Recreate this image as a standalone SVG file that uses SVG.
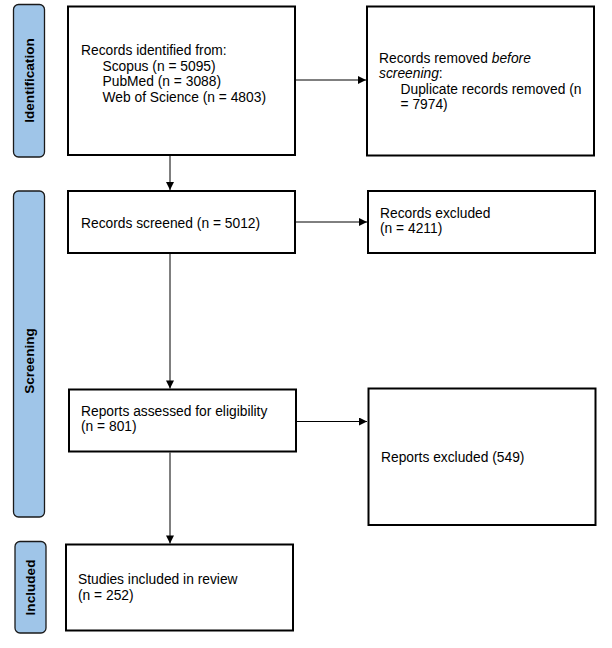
<svg xmlns="http://www.w3.org/2000/svg" width="612" height="648" viewBox="0 0 612 648">
  <style>
    .box { fill: #ffffff; stroke: #000000; stroke-width: 2; }
    .phase { fill: #9fc5e8; stroke: #1a1a1a; stroke-width: 1.3; }
    .txt { font-family: "Liberation Sans", Arial, sans-serif; font-size: 13.8px; fill: #000000; }
    .lbl { font-family: "Liberation Sans", Arial, sans-serif; font-size: 13.6px; font-weight: bold; fill: #000000; text-anchor: middle; }
    .conn { stroke: #000000; stroke-width: 1; fill: none; marker-end: url(#arrow); }
  </style>
  <defs>
    <marker id="arrow" viewBox="0 0 10 10" refX="10" refY="5" markerWidth="10" markerHeight="8" markerUnits="userSpaceOnUse" orient="auto">
      <path d="M0,0 L10,5 L0,10 z" fill="#000000"/>
    </marker>
  </defs>
  <rect width="612" height="648" fill="#ffffff"/>

  <!-- phase labels -->
  <g id="phase-identification">
    <rect class="phase" x="13.5" y="4.5" width="31" height="152.5" rx="5"/>
    <text class="lbl" transform="translate(33.5,80.5) rotate(-90)">Identification</text>
  </g>
  <g id="phase-screening">
    <rect class="phase" x="13.5" y="191" width="31" height="326" rx="5"/>
    <text class="lbl" transform="translate(33.5,361) rotate(-90)">Screening</text>
  </g>
  <g id="phase-included">
    <rect class="phase" x="15" y="541.5" width="31" height="91.5" rx="5"/>
    <text class="lbl" transform="translate(35,587.5) rotate(-90)">Included</text>
  </g>

  <!-- connectors -->
  <g id="connectors">
    <line class="conn" x1="296" y1="80" x2="366" y2="80"/>
    <line class="conn" x1="170" y1="156" x2="170" y2="190"/>
    <line class="conn" x1="296" y1="222" x2="367" y2="222"/>
    <line class="conn" x1="170" y1="254" x2="170" y2="388.5"/>
    <line class="conn" x1="297" y1="421.5" x2="367" y2="421.5"/>
    <line class="conn" x1="170" y1="452.5" x2="170" y2="543.5"/>
  </g>

  <!-- nodes -->
  <g id="records-identified">
    <rect class="box" x="68" y="6.5" width="227" height="148.5"/>
    <text class="txt" x="81" y="55">Records identified from:</text>
    <text class="txt" x="102.5" y="70.5">Scopus (n = 5095)</text>
    <text class="txt" x="102.5" y="86">PubMed (n = 3088)</text>
    <text class="txt" x="102.5" y="101.5">Web of Science (n = 4803)</text>
  </g>
  <g id="records-removed">
    <rect class="box" x="367" y="6.5" width="227" height="149"/>
    <text class="txt" x="379" y="62.5">Records removed <tspan font-style="italic">before</tspan></text>
    <text class="txt" x="379" y="78"><tspan font-style="italic">screening</tspan>:</text>
    <text class="txt" x="400.5" y="93.5">Duplicate records removed (n</text>
    <text class="txt" x="400.5" y="109">= 7974)</text>
  </g>
  <g id="records-screened">
    <rect class="box" x="68" y="191" width="227" height="62"/>
    <text class="txt" x="81" y="227.5">Records screened (n = 5012)</text>
  </g>
  <g id="records-excluded">
    <rect class="box" x="368" y="191" width="227" height="62"/>
    <text class="txt" x="380" y="217.5">Records excluded</text>
    <text class="txt" x="380" y="233">(n = 4211)</text>
  </g>
  <g id="reports-assessed">
    <rect class="box" x="69" y="389.5" width="227" height="62"/>
    <text class="txt" x="81" y="415.5">Reports assessed for eligibility</text>
    <text class="txt" x="81" y="431">(n = 801)</text>
  </g>
  <g id="reports-excluded">
    <rect class="box" x="368.5" y="388.5" width="227" height="136.5"/>
    <text class="txt" x="381" y="461.5">Reports excluded (549)</text>
  </g>
  <g id="studies-included">
    <rect class="box" x="66" y="544.5" width="227" height="86"/>
    <text class="txt" x="78" y="584">Studies included in review</text>
    <text class="txt" x="78" y="600">(n = 252)</text>
  </g>
</svg>
